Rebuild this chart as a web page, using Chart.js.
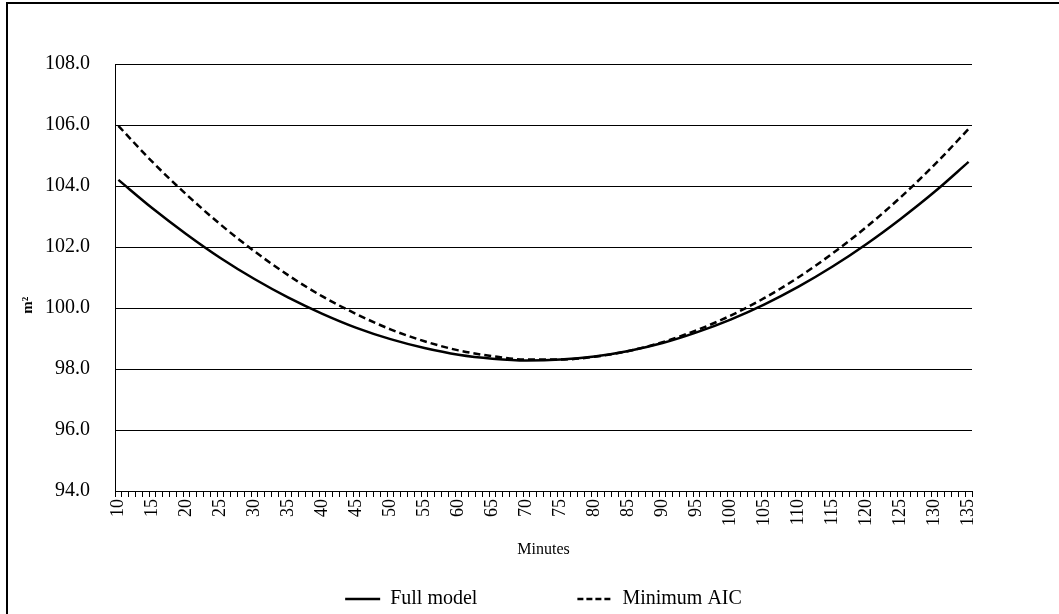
<!DOCTYPE html>
<html>
<head>
<meta charset="utf-8">
<script src="https://cdn.jsdelivr.net/npm/chart.js@4.4.1/dist/chart.umd.min.js"></script>
<style>
  html, body { margin: 0; padding: 0; background: #fff; overflow: hidden; }
  .frame { position: absolute; left: 6px; top: 2px; width: 1060px; height: 620px; border: 2px solid #000; }
  #areaChart { position: absolute; left: 9px; top: 5px; }
</style>
</head>
<body>
<div class="frame"></div>
<canvas id="areaChart" width="1050" height="614"></canvas>
<script>
// every minute from 10 to 135 is a category (tick marks), labels only every 5
const minutes = [];
for (let m = 10; m <= 135; m++) minutes.push(String(m));

// values every 5 minutes
const sampleMinutes = [10, 15, 20, 25, 30, 35, 40, 45, 50, 55, 60, 65, 70, 75, 80, 85, 90, 95, 100, 105, 110, 115, 120, 125, 130, 135];
const fullModel = [104.20, 103.27, 102.42, 101.64, 100.95, 100.34, 99.81, 99.35, 98.98, 98.69, 98.47, 98.34, 98.28,
                   98.31, 98.41, 98.59, 98.85, 99.20, 99.62, 100.12, 100.70, 101.36, 102.10, 102.92, 103.81, 104.79];
const minimumAIC = [105.97, 104.79, 103.72, 102.74, 101.86, 101.07, 100.38, 99.80, 99.30, 98.91, 98.61, 98.42, 98.31,
                    98.31, 98.40, 98.59, 98.88, 99.27, 99.75, 100.33, 101.01, 101.79, 102.66, 103.63, 104.70, 105.87];

const yTicks = [94, 96, 98, 100, 102, 104, 106, 108];

Chart.defaults.font.family = "'Liberation Serif', 'Times New Roman', serif";
Chart.defaults.color = '#000';

const toPoints = (vals) => sampleMinutes.map((m, i) => ({ x: String(m), y: vals[i] }));

new Chart(document.getElementById('areaChart'), {
    type: 'line',
    data: {
        labels: minutes,
        datasets: [
            {
                label: 'Full model',
                data: toPoints(fullModel),
                borderColor: '#000',
                backgroundColor: '#000',
                borderWidth: 2.5,
                pointRadius: 0,
                cubicInterpolationMode: 'monotone'
            },
            {
                label: 'Minimum AIC',
                data: toPoints(minimumAIC),
                borderColor: '#000',
                backgroundColor: '#000',
                borderWidth: 2.5,
                borderDash: [7, 4],
                pointRadius: 0,
                cubicInterpolationMode: 'monotone'
            }
        ]
    },
    options: {
        responsive: false,
        animation: false,
        layout: { padding: { left: 6, right: 87, top: 59, bottom: 0 } },
        plugins: {
            legend: {
                position: 'bottom',
                fullSize: false, // centre it under the plot, not the canvas
                labels: {
                    usePointStyle: true,
                    pointStyle: 'line',
                    pointStyleWidth: 35,
                    padding: 10,
                    font: { size: 20 },
                    color: '#000',
                    generateLabels: (chart) => {
                        const items = Chart.defaults.plugins.legend.labels.generateLabels(chart);
                        items.forEach(it => { it.lineWidth = 2.5; });
                        // with point style the dash isn't copied over, so set it here
                        items[1].lineDash = [6, 3];
                        items[0].lineDash = [];
                        // push the second item to the right like the original
                        items[0].text = items[0].text + '\u2003\u2003\u2003\u2003\u2002';
                        return items;
                    }
                }
            },
            tooltip: { enabled: false }
        },
        scales: {
            x: {
                type: 'category',
                offset: true,
                border: { display: true, color: '#000', width: 1 },
                grid: {
                    offset: true,
                    drawOnChartArea: false, // only the little tick marks under the axis
                    drawTicks: true,
                    tickLength: 6,
                    tickColor: '#000',
                    color: '#000'
                },
                ticks: {
                    autoSkip: false,
                    maxRotation: 90,
                    minRotation: 90,
                    padding: 2,
                    font: { size: 18 },
                    callback: function (val) {
                        const lab = this.getLabelForValue(val);
                        return Number(lab) % 5 === 0 ? lab : '';
                    }
                },
                title: {
                    display: true,
                    text: 'Minutes',
                    font: { size: 16 },
                    padding: { top: 4, bottom: 20 }
                },
                afterFit: (scale) => { scale.height = 88; }
            },
            y: {
                min: 94,
                max: 108,
                afterBuildTicks: (scale) => { scale.ticks = yTicks.map(v => ({ value: v })); },
                border: { display: true, color: '#000', width: 1 },
                grid: { color: '#000', lineWidth: 1, drawTicks: false },
                ticks: {
                    padding: 25,
                    font: { size: 20 },
                    callback: (v) => Number(v).toFixed(1)
                },
                title: {
                    display: true,
                    // trailing spaces nudge the unit down a bit, as in the original
                    text: 'm²\u2003\u2003\u2003\u2002\u2009',
                    font: { size: 15, weight: 'bold' },
                    padding: 4
                },
                afterFit: (scale) => { scale.width = 100; }
            }
        }
    }
});
</script>
</body>
</html>
